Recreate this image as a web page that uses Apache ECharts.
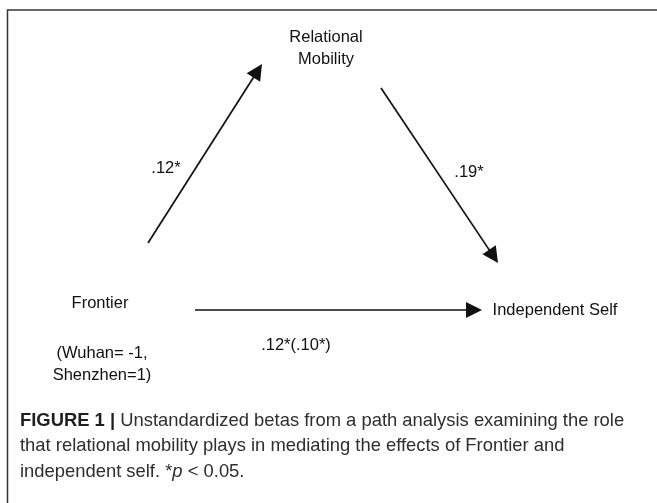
<!DOCTYPE html>
<html>
<head>
<meta charset="utf-8">
<script src="https://cdn.jsdelivr.net/npm/echarts@6/dist/echarts.min.js"></script>
<style>html,body{margin:0;padding:0;background:#fff}#c{width:657px;height:503px}</style>
</head>
<body>
<div id="c"></div>
<script>
// ---- content ----
const nodeNames = ['Relational\nMobility', 'Frontier', '(Wuhan= -1,\nShenzhen=1)', 'Independent Self'];
const pathCoefficients = ['.12*', '.19*', '.12*(.10*)'];
const captionLines = [
  '{b|FIGURE 1 |} Unstandardized betas from a path analysis examining the role',
  'that relational mobility plays in mediating the effects of Frontier and',
  'independent self. *{i|p} < 0.05.'
];

// ---- layout (diagram positions in page pixels) ----
const nodePos = [[326, 48], [100, 303], [102, 364], [555, 310]];
const coefPos = [[166, 168], [469, 172], [296, 345]];
const pathStart = [[148, 243], [381, 88], [195, 310]];
const pathTip = [[262, 64], [498, 263], [482, 310]];
const ARROW = 16;

const FONT = 'Liberation Sans, Arial, Helvetica, sans-serif';
const nodes = [];
const links = [];
nodeNames.forEach((n, i) => nodes.push({
  name: 'n' + i, value: nodePos[i], symbolSize: 0,
  label: { show: true, position: 'inside', formatter: n, fontSize: 16.5, lineHeight: 22, color: '#111', fontFamily: FONT, align: 'center' }
}));
pathCoefficients.forEach((c, i) => {
  nodes.push({
    name: 'c' + i, value: coefPos[i], symbolSize: 0,
    label: { show: true, position: 'inside', formatter: c, fontSize: 16.5, color: '#111', fontFamily: FONT }
  });
  // the edge symbol is centred on the end point: pull it back by half its size so its tip sits on pathTip
  const s = pathStart[i], t = pathTip[i];
  const dx = t[0] - s[0], dy = t[1] - s[1], len = Math.hypot(dx, dy);
  const e = [t[0] - dx / len * ARROW / 2, t[1] - dy / len * ARROW / 2];
  nodes.push({ name: 's' + i, value: s, symbolSize: 0, label: { show: false } });
  nodes.push({ name: 'e' + i, value: e, symbolSize: 0, label: { show: false } });
  links.push({ source: 's' + i, target: 'e' + i });
});

const chart = echarts.init(document.getElementById('c'), null, { renderer: 'canvas' });
chart.setOption({
  animation: false,
  backgroundColor: '#fff',
  grid: { left: 0, right: 0, top: 0, bottom: 0 },
  xAxis: { type: 'value', min: 0, max: 657, show: false },
  yAxis: { type: 'value', min: 0, max: 503, inverse: true, show: false },
  series: [{
    type: 'graph',
    coordinateSystem: 'cartesian2d',
    layout: 'none',
    data: nodes,
    links: links,
    edgeSymbol: ['none', 'triangle'],
    edgeSymbolSize: [0, ARROW],
    lineStyle: { color: '#111', width: 1.7, opacity: 1, curveness: 0 },
    itemStyle: { color: '#111' },
    emphasis: { disabled: true }
  }],
  graphic: [
    { type: 'polyline', shape: { points: [[7.5, 503], [7.5, 10], [657, 10]] }, style: { stroke: '#333', lineWidth: 1.5, fill: null } },
    {
      type: 'text', left: 20, top: 408,
      style: {
        text: captionLines.join('\n'),
        fontSize: 18.4, lineHeight: 25.5, fontFamily: FONT, fill: '#2e2e2e',
        rich: {
          b: { fontWeight: 'bold', fontSize: 18.4, fontFamily: FONT, fill: '#1e1e1e', lineHeight: 25.5 },
          i: { fontStyle: 'italic', fontSize: 18.4, fontFamily: FONT, fill: '#2e2e2e', lineHeight: 25.5 }
        }
      }
    }
  ]
});
</script>
</body>
</html>
